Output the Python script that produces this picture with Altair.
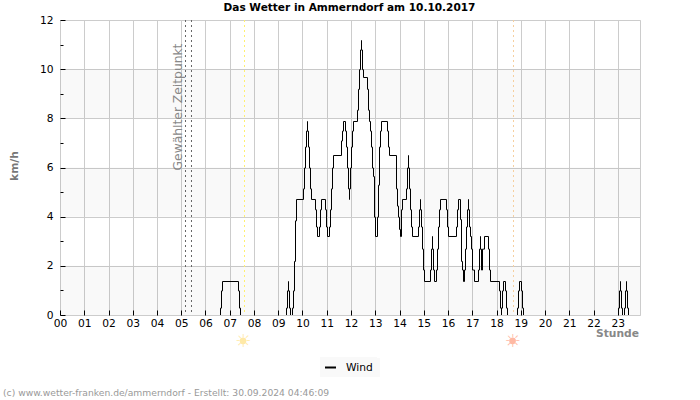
import altair as alt
import pandas as pd

FONT = "DejaVu Sans"
PX_PER_HOUR = 24.25
X_END = 580 / PX_PER_HOUR

# Wind speed readings: logger sample number (about 24.25 per hour) and km/h
samples = [0, 159, 160, 161, 177, 178, 179, 225, 226, 227, 227, 228, 229, 231, 232, 233, 234, 235,
           242, 243, 244, 245, 246, 246, 247, 248, 249, 250, 254, 255, 256, 258, 259, 260, 264, 265,
           266, 268, 269, 270, 271, 272, 280, 281, 282, 284, 285, 286, 287, 288, 288, 289, 290, 291, 292,
           296, 297, 298, 299, 300, 300, 301, 302, 306, 307, 308, 309, 310, 311, 312, 313, 314, 316,
           317, 318, 319, 320, 326, 327, 328, 335, 336, 337, 338, 339, 340, 341, 345, 346, 347, 347,
           348, 349, 350, 351, 357, 358, 359, 359, 360, 361, 362, 363, 369, 370, 371, 371, 372, 373, 375,
           376, 377, 378, 379, 385, 386, 387, 395, 396, 397, 399, 400, 401, 402, 403, 404, 405, 406, 407,
           407, 408, 409, 410, 411, 413, 417, 418, 419, 419, 420, 421, 423, 427, 428, 429, 438, 439,
           440, 440, 441, 442, 444, 445, 446, 456, 457, 458, 460, 461, 462, 557, 558, 559, 559, 560,
           561, 563, 564, 565, 565, 566, 567, 579]
wind = [0, 0.3, 1.0, 1.383, 1.0, 0.3, 0, 0.3, 1.0, 1.383, 1.0, 0.3, 0, 0.3, 1.0, 2.2, 3.85, 4.719,
        5.15, 6.0, 6.85, 7.5, 7.892, 7.5, 6.85, 6.0, 5.15, 4.719, 4.3, 3.6, 3.214, 3.6, 4.3, 4.719, 4.3, 3.6,
        3.214, 3.6, 4.3, 5.15, 6.0, 6.508, 7.1, 7.5, 7.892, 7.5, 6.85, 6.0, 5.15, 4.719, 5.15, 6.0, 6.85, 7.5, 7.892,
        8.35, 9.2, 10.0, 10.8, 11.187, 10.8, 10.0, 9.681, 9.2, 8.35, 7.892, 7.5, 6.85, 6.0, 5.65, 4.0, 3.214, 4.0,
        5.3, 6.85, 7.5, 7.892, 7.5, 6.85, 6.508, 5.15, 4.45, 4.0, 3.5, 3.214, 4.3, 4.719, 5.15, 6.0, 6.508, 6.0,
        5.15, 4.3, 3.6, 3.214, 3.6, 4.3, 4.719, 4.3, 3.6, 2.7, 1.85, 1.383, 1.85, 2.7, 3.214, 2.7, 1.85, 1.383, 1.85,
        2.7, 3.6, 4.3, 4.719, 4.3, 3.6, 3.214, 3.6, 4.3, 4.719, 3.9, 2.2, 1.85, 1.383, 1.85, 2.7, 3.6, 4.3, 4.719,
        4.3, 3.6, 3.214, 2.7, 1.85, 1.383, 1.85, 2.7, 3.214, 2.7, 1.85, 2.7, 3.214, 2.7, 1.85, 1.383, 1.0, 0.3,
        0, 0.3, 1.0, 1.383, 1.0, 0.3, 0, 0.3, 1.0, 1.383, 1.0, 0.3, 0, 0.3, 1.0, 1.383, 1.0, 0.3,
        0, 0.3, 1.0, 1.383, 1.0, 0.3, 0, 0]

hours = list(range(24))
major_y = [0, 2, 4, 6, 8, 10, 12]
minor_y = [1, 3, 5, 7, 9, 11]
band_low = [0, 4, 8]
band_high = [2, 6, 10]

selected_hours = [5.155, 5.402]
sunrise_hour = 7.588
sunset_hour = 18.68

x_scale = alt.Scale(domain=[0, X_END], nice=False, zero=False)
y_scale = alt.Scale(domain=[0, 12], nice=False)
GREY = "#cccccc"

series = pd.DataFrame({
    "hour": [(s + 1) / PX_PER_HOUR for s in samples],
    "wind": wind,
    "series": "Wind",
    "order": range(len(samples)),
})

x_axis = alt.Axis(values=hours, labelExpr="(datum.value < 10 ? '0' : '') + datum.value", grid=True,
                  gridColor=GREY, domain=False, ticks=False, title=None, orient="bottom",
                  labelFont=FONT, labelFontSize=10.7, labelColor="#000000",
                  labelPadding=3, labelOverlap=False, labelFlush=False)
y_axis = alt.Axis(values=major_y, grid=True, gridColor=GREY, domain=False, ticks=False, title=None,
                  orient="left", labelFont=FONT, labelFontSize=10.7, labelColor="#000000", labelPadding=7)

bands = alt.Chart(pd.DataFrame({"lo": band_low, "hi": band_high})).mark_rect(
    color="#000000", opacity=0.025
).encode(
    y=alt.Y("lo:Q", scale=y_scale, axis=y_axis),
    y2="hi:Q",
    x=alt.value(0),
    x2=alt.value(580),
)

frame_x = alt.Chart(pd.DataFrame({"h": hours})).mark_rule(opacity=0).encode(
    x=alt.X("h:Q", scale=x_scale, axis=x_axis)
)

def vline(hour, color, dash):
    return alt.Chart(pd.DataFrame({"h": [hour]})).mark_rule(
        color=color, strokeDash=dash, strokeWidth=1, xOffset=0.5
    ).encode(x=alt.X("h:Q", scale=x_scale, axis=None))

selected = [vline(h, "#666666", [2, 3]) for h in selected_hours]
sunrise = vline(sunrise_hour, "#fff070", [2, 3])
sunset = vline(sunset_hour, "#f5cf9f", [2, 3])

line = alt.Chart(series).mark_line(
    interpolate="step-after", strokeWidth=1, color="#000000", clip=True, xOffset=0.5, yOffset=0.5
).encode(
    x=alt.X("hour:Q", scale=x_scale, axis=None),
    y=alt.Y("wind:Q", scale=y_scale, axis=None),
    order="order:Q",
    color=alt.Color(
        "series:N",
        scale=alt.Scale(domain=["Wind"], range=["#000000"]),
        legend=alt.Legend(
            title=None, orient="none", legendX=260, legendY=337, fillColor="#f9f9f9",
            padding=4, symbolType="stroke", symbolSize=121, symbolStrokeWidth=2,
            labelFont=FONT, labelFontSize=10.7, labelColor="#000000", labelOffset=9,
        ),
    ),
)

baseline = alt.Chart(pd.DataFrame({"v": [0]})).mark_rule(
    color=GREY, strokeWidth=1, yOffset=0.5
).encode(
    y=alt.Y("v:Q", scale=y_scale, axis=None), x=alt.value(0), x2=alt.value(580)
)

x_ticks = alt.Chart(pd.DataFrame({"h": hours})).mark_rule(opacity=0).encode(
    x=alt.X("h:Q", scale=x_scale, axis=alt.Axis(
        values=hours, labels=False, domain=False, grid=False, title=None, offset=-5, orient="bottom",
        tickSize=5, tickColor="#000000", zindex=1))
)
y_major_ticks = alt.Chart(pd.DataFrame({"v": major_y})).mark_rule(opacity=0).encode(
    y=alt.Y("v:Q", scale=y_scale, axis=alt.Axis(
        values=major_y, labels=False, domain=False, grid=False, title=None, offset=-5, orient="left",
        tickSize=5, tickColor="#000000", zindex=1))
)
y_minor_ticks = alt.Chart(pd.DataFrame({"v": minor_y})).mark_rule(opacity=0).encode(
    y=alt.Y("v:Q", scale=y_scale, axis=alt.Axis(
        values=minor_y, labels=False, domain=False, grid=False, title=None, offset=-3, orient="left",
        tickSize=3, tickColor="#000000", zindex=1))
)

def note(text, x, y, **kw):
    return alt.Chart(pd.DataFrame({"t": [text]})).mark_text(font=FONT, **kw).encode(
        text="t:N", x=alt.value(x), y=alt.value(y)
    )

def sun_disc(x, y, color):
    return alt.Chart(pd.DataFrame({"s": [1]})).mark_circle(size=42, color=color, opacity=1).encode(
        x=alt.value(x), y=alt.value(y)
    )

# Panel behind the legend entry, a little wider than the entry itself
legend_panel = alt.Chart(pd.DataFrame({"s": [1]})).mark_rect(color="#f9f9f9").encode(
    x=alt.value(260), x2=alt.value(320), y=alt.value(338), y2=alt.value(357)
)

notes = [
    note("Das Wetter in Ammerndorf am 10.10.2017", 289.5, -12, fontSize=10.55, fontWeight="bold",
         color="#000000", align="center", baseline="middle"),
    note("Gewählter Zeitpunkt", 118, 87, angle=270, fontSize=12.3, color="#888888", align="center", baseline="middle"),
    note("km/h", -45, 146, angle=270, fontSize=10.7, fontWeight="bold", color="#777777", align="center", baseline="middle"),
    note("Stunde", 579, 314, fontSize=10.7, fontWeight="bold", color="#888888", align="right", baseline="middle"),
    note("☀", 183, 322, fontSize=18, color="#ffe9a6", align="center", baseline="middle"),
    note("☀", 452.5, 322, fontSize=18, color="#ffb9a3", align="center", baseline="middle"),
    sun_disc(183, 321, "#ffe9a6"),
    sun_disc(452.5, 321, "#ffb9a3"),
    note("(c) www.wetter-franken.de/ammerndorf - Erstellt: 30.09.2024 04:46:09", -57, 373,
         fontSize=9.2, color="#999999", align="left", baseline="middle"),
]

chart = alt.layer(
    bands, frame_x, *selected, sunrise, sunset, legend_panel, line, baseline,
    x_ticks, y_major_ticks, y_minor_ticks, *notes
).resolve_axis(x="independent", y="independent").properties(
    width=580,
    height=295,
    padding={"left": 60, "top": 20, "right": 60, "bottom": 85},
    autosize=alt.AutoSizeParams(type="none", contains="content"),
).configure_view(stroke=GREY)

chart.save("out.html", embed_options={"renderer": "svg", "actions": False})
